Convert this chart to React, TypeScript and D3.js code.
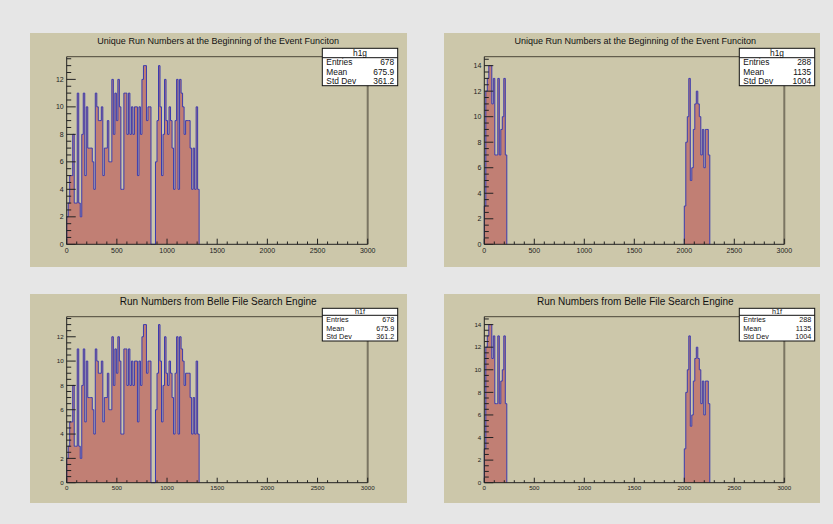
import React from "react";
import * as d3 from "d3";

// ---- data ----
const BIN_WIDTH = 15;
const X_DOMAIN = [0, 3000];
const X_MAJOR_TICKS = [0, 500, 1000, 1500, 2000, 2500, 3000];

// left column histogram (h1g / h1f identical), bins start at 0
const LEFT_START = 0;
const LEFT_COUNTS = [
  2, 3, 5, 5, 8, 3, 3, 11, 3, 2, 8, 11, 5, 10, 7, 7, 7, 6, 4, 11,
  10, 9, 9, 10, 5, 7, 7, 9, 6, 6, 12, 8, 11, 9, 12, 10, 4, 4, 11, 11,
  8, 11, 8, 10, 8, 10, 10, 5, 10, 8, 12, 13, 13, 9, 10, 10, 0, 0, 0, 6,
  9, 13, 10, 5, 8, 12, 9, 8, 10, 9, 7, 4, 9, 12, 4, 12, 11, 10, 8, 9,
  9, 9, 7, 4, 7, 4, 10, 4,
];

// right column histogram, two clusters
const RIGHT_LOW_START = 0;
const RIGHT_LOW_COUNTS = [3, 12, 13, 14, 14, 11, 13, 7, 7, 13, 7, 9, 10, 13, 7];
const RIGHT_HIGH_START = 2000;
const RIGHT_HIGH_COUNTS = [3, 8, 10, 13, 5, 6, 9, 11, 12, 11, 10, 7, 9, 6, 9, 9, 7];

const TITLE_TOP = "Unique Run Numbers at the Beginning of the Event Funciton";
const TITLE_BOTTOM = "Run Numbers from Belle File Search Engine";

const STATS_LABELS = ["Entries", "Mean", "Std Dev"];
const LEFT_STATS = ["678", "675.9", "361.2"];
const RIGHT_STATS = ["288", "1135", "1004"];

const FONT = "'Liberation Sans', Arial, Helvetica, sans-serif";
const PAD_FILL = "#ccc7aa";
const BG = "#e6e6e6";
const HIST_FILL = "#c17f74";
const HIST_LINE = "#3b3bb0";

type Segment = { start: number; counts: number[] };

type PanelProps = {
  pad: { x: number; y: number; w: number; h: number };
  frame: { x0: number; x1: number; y0: number; y1: number };
  title: string;
  titleSize: number;
  titleY: number;
  segments: Segment[];
  yMaxTick: number;
  statName: string;
  statValues: string[];
  stats: { x0: number; x1: number; y0: number; y1: number; header: number; fs: number };
  labelSize: number;
};

function Panel(p: PanelProps) {
  const { frame } = p;
  const maxVal = d3.max(p.segments.flatMap((s) => s.counts)) as number;
  const xs = d3.scaleLinear().domain(X_DOMAIN).range([frame.x0, frame.x1]);
  const ys = d3.scaleLinear().domain([0, maxVal * 1.05]).range([frame.y1, frame.y0]);

  const fw = frame.x1 - frame.x0;
  const fh = frame.y1 - frame.y0;
  const xMajorLen = fh * 0.03;
  const yMajorLen = fw * 0.03;

  const xMinor = d3.range(0, 3001, 100).filter((v) => v % 500 !== 0);
  const yMajor = d3.range(0, p.yMaxTick + 0.01, 2);
  const yMinor = d3.range(0, maxVal * 1.05, 0.5).filter((v) => v % 2 !== 0);

  const line = d3
    .line<[number, number]>()
    .x((d) => xs(d[0]))
    .y((d) => ys(d[1]));
  const area = d3
    .area<[number, number]>()
    .x((d) => xs(d[0]))
    .y0(ys(0))
    .y1((d) => ys(d[1]));

  const paths = p.segments.map((s) => {
    const pts: [number, number][] = [[s.start, 0]];
    s.counts.forEach((c, i) => {
      pts.push([s.start + i * BIN_WIDTH, c]);
      pts.push([s.start + (i + 1) * BIN_WIDTH, c]);
    });
    pts.push([s.start + s.counts.length * BIN_WIDTH, 0]);
    return pts;
  });

  const st = p.stats;
  const rowH = (st.y1 - st.header) / 3;

  return (
    <g>
      <rect x={p.pad.x} y={p.pad.y} width={p.pad.w} height={p.pad.h} fill={PAD_FILL} />
      <text
        x={(frame.x0 + frame.x1) / 2 + 1}
        y={p.titleY}
        textAnchor="middle"
        fontSize={p.titleSize}
        fontFamily={FONT}
        fill="#111"
      >
        {p.title}
      </text>
      {paths.map((pts, i) => (
        <path key={"a" + i} d={area(pts) || ""} fill={HIST_FILL} />
      ))}
      {paths.map((pts, i) => (
        <path key={"l" + i} d={line(pts) || ""} fill="none" stroke={HIST_LINE} strokeWidth={1} />
      ))}
      {/* frame top and right */}
      <line x1={frame.x0} x2={frame.x1} y1={frame.y0} y2={frame.y0} stroke="#4a4638" strokeWidth={1} />
      <line x1={frame.x1} x2={frame.x1} y1={frame.y0} y2={frame.y1} stroke="#7a7562" strokeWidth={2} />
      {/* axes */}
      <line x1={frame.x0} x2={frame.x1} y1={frame.y1} y2={frame.y1} stroke="#222" strokeWidth={1} />
      <line x1={frame.x0} x2={frame.x0} y1={frame.y0} y2={frame.y1} stroke="#222" strokeWidth={1} />
      {X_MAJOR_TICKS.map((t) => (
        <g key={"xt" + t}>
          <line x1={xs(t)} x2={xs(t)} y1={frame.y1} y2={frame.y1 - xMajorLen} stroke="#222" />
          <text
            x={xs(t)}
            y={frame.y1 + p.labelSize + 1.5}
            textAnchor="middle"
            fontSize={p.labelSize}
            fontFamily={FONT}
            fill="#222"
          >
            {t}
          </text>
        </g>
      ))}
      {xMinor.map((t) => (
        <line key={"xm" + t} x1={xs(t)} x2={xs(t)} y1={frame.y1} y2={frame.y1 - xMajorLen / 2} stroke="#222" />
      ))}
      {yMajor.map((t) => (
        <g key={"yt" + t}>
          <line x1={frame.x0} x2={frame.x0 + yMajorLen} y1={ys(t)} y2={ys(t)} stroke="#222" />
          <text
            x={frame.x0 - 3}
            y={ys(t) + p.labelSize * 0.35}
            textAnchor="end"
            fontSize={p.labelSize}
            fontFamily={FONT}
            fill="#222"
          >
            {t}
          </text>
        </g>
      ))}
      {yMinor.map((t) => (
        <line key={"ym" + t} x1={frame.x0} x2={frame.x0 + yMajorLen / 2} y1={ys(t)} y2={ys(t)} stroke="#222" />
      ))}
      {/* stats box */}
      <rect
        x={st.x0}
        y={st.y0}
        width={st.x1 - st.x0}
        height={st.y1 - st.y0}
        fill="#fff"
        stroke="#111"
        strokeWidth={1}
      />
      <line x1={st.x0} x2={st.x1} y1={st.header} y2={st.header} stroke="#111" strokeWidth={1} />
      <text
        x={(st.x0 + st.x1) / 2}
        y={(st.y0 + st.header) / 2 + st.fs * 0.36}
        textAnchor="middle"
        fontSize={st.fs}
        fontFamily={FONT}
        fill="#111"
      >
        {p.statName}
      </text>
      {STATS_LABELS.map((lab, i) => (
        <g key={lab}>
          <text
            x={st.x0 + 4}
            y={st.header + rowH * (i + 0.5) + st.fs * 0.36}
            fontSize={st.fs}
            fontFamily={FONT}
            fill="#111"
          >
            {lab}
          </text>
          <text
            x={st.x1 - 3.5}
            y={st.header + rowH * (i + 0.5) + st.fs * 0.36}
            textAnchor="end"
            fontSize={st.fs}
            fontFamily={FONT}
            fill="#111"
          >
            {p.statValues[i]}
          </text>
        </g>
      ))}
    </g>
  );
}

export default function App() {
  const leftSegs: Segment[] = [{ start: LEFT_START, counts: LEFT_COUNTS }];
  const rightSegs: Segment[] = [
    { start: RIGHT_LOW_START, counts: RIGHT_LOW_COUNTS },
    { start: RIGHT_HIGH_START, counts: RIGHT_HIGH_COUNTS },
  ];
  const topFrameY = { y0: 56.7, y1: 244.3 };
  const botFrameY = { y0: 316.7, y1: 482.7 };
  const leftFrameX = { x0: 66.7, x1: 367.7 };
  const rightFrameX = { x0: 484.3, x1: 784.3 };
  return (
    <div style={{ position: "fixed", left: 0, top: 0 }}>
      <svg width={833} height={524} style={{ display: "block" }}>
        <rect x={0} y={0} width={833} height={524} fill={BG} />
        <Panel
          pad={{ x: 30, y: 33, w: 377, h: 234 }}
          frame={{ ...leftFrameX, ...topFrameY }}
          title={TITLE_TOP}
          titleSize={9}
          titleY={43.5}
          segments={leftSegs}
          yMaxTick={12}
          statName="h1g"
          statValues={LEFT_STATS}
          stats={{ x0: 322.3, x1: 397.7, y0: 48.3, y1: 85.7, header: 57.7, fs: 8.4 }}
          labelSize={7}
        />
        <Panel
          pad={{ x: 444, y: 33, w: 376, h: 234 }}
          frame={{ ...rightFrameX, ...topFrameY }}
          title={TITLE_TOP}
          titleSize={9}
          titleY={43.5}
          segments={rightSegs}
          yMaxTick={14}
          statName="h1g"
          statValues={RIGHT_STATS}
          stats={{ x0: 739.3, x1: 814.7, y0: 48.3, y1: 85.7, header: 57.7, fs: 8.4 }}
          labelSize={7}
        />
        <Panel
          pad={{ x: 30, y: 294, w: 377, h: 209 }}
          frame={{ ...leftFrameX, ...botFrameY }}
          title={TITLE_BOTTOM}
          titleSize={10}
          titleY={305}
          segments={leftSegs}
          yMaxTick={12}
          statName="h1f"
          statValues={LEFT_STATS}
          stats={{ x0: 322.3, x1: 397.7, y0: 308.3, y1: 341, header: 315.3, fs: 7.2 }}
          labelSize={6.2}
        />
        <Panel
          pad={{ x: 444, y: 294, w: 376, h: 209 }}
          frame={{ ...rightFrameX, ...botFrameY }}
          title={TITLE_BOTTOM}
          titleSize={10}
          titleY={305}
          segments={rightSegs}
          yMaxTick={14}
          statName="h1f"
          statValues={RIGHT_STATS}
          stats={{ x0: 739.3, x1: 814.7, y0: 308.3, y1: 341, header: 315.3, fs: 7.2 }}
          labelSize={6.2}
        />
      </svg>
    </div>
  );
}
